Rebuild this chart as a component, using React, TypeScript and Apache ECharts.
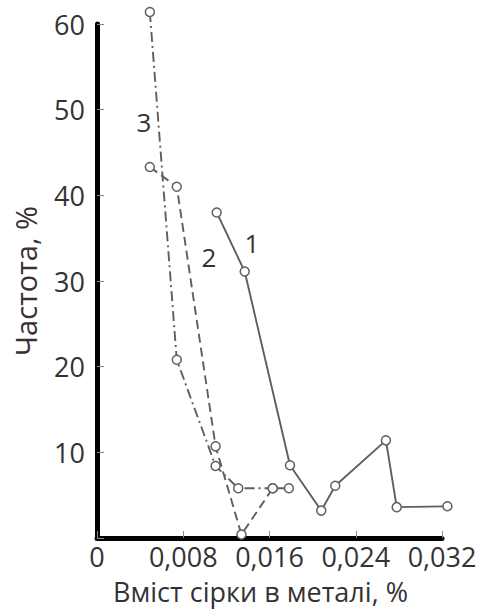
import React, { useEffect, useRef } from "react";
import * as echarts from "echarts";

const curve1: [number, number][] = [
  [0.0111, 38.0], [0.0137, 31.1], [0.0179, 8.5], [0.0208, 3.2], [0.0221, 6.1],
  [0.0268, 11.4], [0.0278, 3.6], [0.0325, 3.7],
];
const curve2: [number, number][] = [
  [0.0049, 43.3], [0.0074, 41.0], [0.0110, 10.7], [0.0134, 0.4], [0.0163, 5.8], [0.0178, 5.8],
];
const curve3: [number, number][] = [
  [0.0049, 61.4], [0.0074, 20.8], [0.0110, 8.4], [0.0131, 5.8], [0.0163, 5.8],
];
const curveLabels = ["1", "2", "3"];
const xTitle = "Вміст сірки в металі, %";
const yTitle = "Частота, %";

const FONT = "Open Sans";
const LINE = "#5e5e5e";

export default function App() {
  const ref = useRef<HTMLDivElement>(null);
  useEffect(() => {
    if (!ref.current) return;
    const chart = echarts.init(ref.current, null, { renderer: "svg" });
    const mk = (data: [number, number][], type: any) => ({
      type: "line",
      data,
      clip: false,
      symbol: "circle",
      symbolSize: 9,
      itemStyle: { color: "#fff", borderColor: LINE, borderWidth: 1.5 },
      lineStyle: { color: LINE, width: 1.9, type },
    });
    const lbl = (text: string, x: number, y: number) => ({
      type: "text",
      x,
      y,
      style: { text, font: `26px '${FONT}'`, fill: "#333", align: "center", verticalAlign: "middle" },
    });
    chart.setOption({
      animation: false,
      backgroundColor: "#fff",
      textStyle: { fontFamily: FONT },
      grid: { left: 97, top: 24, width: 345, height: 514, containLabel: false, outerBoundsMode: "none" },
      xAxis: {
        type: "value",
        min: 0,
        max: 0.032,
        interval: 0.008,
        splitLine: { show: false },
        axisLine: { show: true, onZero: false, lineStyle: { color: "#000", width: 5 } },
        axisTick: { show: true, inside: true, length: 7, lineStyle: { color: "#888", width: 1 } },
        axisLabel: {
          fontSize: 27,
          color: "#333",
          margin: 5,
          fontFamily: FONT,
          formatter: (v: number) => (v === 0 ? "0" : v.toFixed(3).replace(".", ",")),
        },
        name: xTitle,
        nameLocation: "middle",
        nameGap: 53,
        nameTextStyle: { fontSize: 27, color: "#333", fontFamily: FONT, verticalAlign: "middle", padding: [0, 18, 0, 0] },
      },
      yAxis: {
        type: "value",
        min: 0,
        max: 60,
        interval: 10,
        splitLine: { show: false },
        axisLine: { show: true, lineStyle: { color: "#000", width: 5 } },
        axisTick: { show: true, inside: true, length: 7, lineStyle: { color: "#888", width: 1 } },
        axisLabel: {
          fontSize: 27,
          color: "#333",
          margin: 12,
          fontFamily: FONT,
          formatter: (v: number) => (v === 0 ? "" : String(v)),
        },
        name: yTitle,
        nameLocation: "middle",
        nameGap: 72,
        nameTextStyle: { fontSize: 29, color: "#3a2f33", fontFamily: FONT, verticalAlign: "middle" },
      },
      graphic: [
        lbl(curveLabels[0], 252, 243),
        lbl(curveLabels[1], 209, 257),
        lbl(curveLabels[2], 144, 122),
      ],
      series: [mk(curve1, "solid"), mk(curve2, [9, 5]), mk(curve3, [10, 4, 2, 4])],
    });
    return () => chart.dispose();
  }, []);
  return <div ref={ref} style={{ width: 487, height: 611, position: "absolute", left: 0, top: 0 }} />;
}
